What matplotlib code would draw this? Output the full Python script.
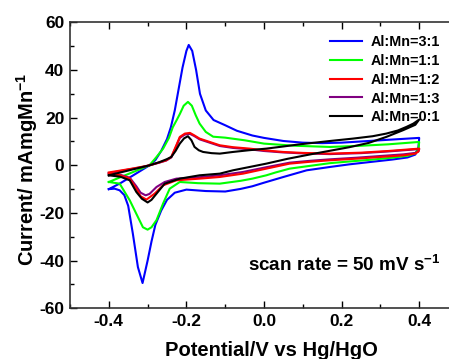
import numpy as np
import matplotlib
matplotlib.use("Agg")
import matplotlib.pyplot as plt
from matplotlib.ticker import MultipleLocator

plt.rcParams['font.family'] = ['Liberation Sans', 'DejaVu Sans']
plt.rcParams['font.weight'] = 'bold'
plt.rcParams['mathtext.fontset'] = 'custom'
plt.rcParams['mathtext.rm'] = 'Liberation Sans:bold'
plt.rcParams['mathtext.it'] = 'Liberation Sans:bold'
plt.rcParams['mathtext.bf'] = 'Liberation Sans:bold'

labels = ['Al:Mn=3:1', 'Al:Mn=1:1', 'Al:Mn=1:2', 'Al:Mn=1:3', 'Al:Mn=0:1']
colors = ['#0000ff', '#00ff00', '#ff0000', '#800080', '#000000']

# Al:Mn=3:1 (anodic sweep, then cathodic sweep)
e_31_up = [-0.40, -0.37, -0.34, -0.31, -0.295, -0.28, -0.265, -0.25, -0.24, -0.23, -0.22, -0.21,
           -0.20, -0.194, -0.185, -0.175, -0.165, -0.15, -0.13, -0.10, -0.07, -0.03, 0.0, 0.05,
           0.10, 0.15, 0.20, 0.25, 0.30, 0.35, 0.40]
i_31_up = [-10, -7.5, -4.5, -1.5, 0, 2.2, 6, 11, 16, 23, 32, 41,
           48, 50.5, 48, 40, 30, 23, 19, 16.8, 14.5, 12.5, 11.5, 10.2,
           9.5, 9.3, 9.5, 10, 10.5, 11, 11.5]
e_31_dn = [0.40, 0.398, 0.39, 0.37, 0.33, 0.28, 0.22, 0.17, 0.11, 0.05, 0.0, -0.03, -0.06, -0.10,
           -0.15, -0.20, -0.23, -0.25, -0.265, -0.28, -0.29, -0.30, -0.313, -0.325, -0.338, -0.35,
           -0.36, -0.372, -0.385, -0.40]
i_31_dn = [11.5, 7.5, 4.5, 3.3, 2.4, 1.5, 0.4, -0.7, -2.1, -4.9, -7.3, -8.8, -9.9, -11,
           -10.8, -10.2, -11.5, -14.5, -19, -25, -32, -40, -49.4, -42.7, -28.7, -17,
           -12.5, -10.5, -9.8, -10]

# Al:Mn=1:1
e_11_up = [-0.40, -0.37, -0.34, -0.31, -0.295, -0.277, -0.26, -0.245, -0.235, -0.225, -0.217, -0.207,
           -0.196, -0.186, -0.176, -0.166, -0.15, -0.131, -0.10, -0.05, 0.0, 0.08, 0.17, 0.25, 0.32, 0.40]
i_11_up = [-7, -5, -3, -1, 0, 3.5, 7, 11.5, 16, 19, 21.5, 25,
           26.6, 25, 21, 17.5, 14, 12, 11.6, 10.5, 9.1, 8.2, 7.7, 8.2, 8.8, 9.8]
e_11_dn = [0.40, 0.398, 0.39, 0.37, 0.33, 0.28, 0.22, 0.17, 0.12, 0.066, 0.03, 0.006, -0.03, -0.06,
           -0.114, -0.17, -0.217, -0.243, -0.26, -0.277, -0.29, -0.30, -0.312, -0.325, -0.346, -0.372, -0.40]
i_11_dn = [9.8, 7, 5, 4.0, 3.2, 2.4, 1.6, 0.9, -0.2, -1.4, -3, -4.2, -5.6, -6.5,
           -7.7, -7.5, -7, -9.8, -16, -23, -26, -27, -26, -21.7, -14.7, -7.7, -7]

# Al:Mn=1:2
e_12_up = [-0.40, -0.37, -0.34, -0.31, -0.295, -0.27, -0.252, -0.239, -0.226, -0.217, -0.204, -0.191,
           -0.18, -0.166, -0.14, -0.114, -0.08, -0.037, 0.0, 0.049, 0.10, 0.17, 0.25, 0.32, 0.40]
i_12_up = [-3, -2.2, -1.4, -0.5, 0, 1.2, 2.1, 3.5, 8.4, 11.9, 13.3, 13.6,
           12.6, 11.2, 9.8, 8.4, 7.6, 7, 6.3, 5.6, 5.2, 4.9, 5.3, 6, 7]
e_12_dn = [0.40, 0.398, 0.39, 0.36, 0.30, 0.24, 0.17, 0.12, 0.066, 0.006, -0.054, -0.114, -0.166,
           -0.226, -0.26, -0.282, -0.303, -0.318, -0.329, -0.346, -0.37, -0.40]
i_12_dn = [7, 5.8, 4.9, 4.2, 3.5, 2.8, 2.1, 1.5, 0.7, -1.4, -3.5, -4.9, -5.6,
           -6.3, -8.4, -11.9, -14.4, -13, -9.8, -5.6, -4.2, -3.5]

# Al:Mn=1:3
e_13_up = [-0.40, -0.37, -0.34, -0.31, -0.295, -0.27, -0.252, -0.239, -0.226, -0.217, -0.204, -0.191,
           -0.18, -0.166, -0.14, -0.114, -0.08, -0.037, 0.0, 0.049, 0.10, 0.17, 0.25, 0.32, 0.40]
i_13_up = [-3.3, -2.4, -1.5, -0.6, 0, 1.1, 2.0, 3.3, 8.0, 11.5, 12.9, 13.2,
           12.3, 10.9, 9.5, 8.1, 7.3, 6.7, 6.0, 5.4, 5.0, 4.7, 5.1, 5.8, 6.8]
e_13_dn = [0.40, 0.398, 0.39, 0.36, 0.30, 0.24, 0.17, 0.12, 0.066, 0.006, -0.054, -0.114, -0.166,
           -0.226, -0.256, -0.277, -0.295, -0.305, -0.318, -0.329, -0.346, -0.37, -0.40]
i_13_dn = [6.8, 5.8, 5.2, 4.6, 3.9, 3.2, 2.5, 1.9, 1.1, -0.8, -2.8, -4.2, -5.0,
           -5.6, -7, -9.1, -12, -12.6, -11.5, -8.8, -5.2, -4.0, -3.4]

# Al:Mn=0:1
e_01_up = [-0.40, -0.37, -0.34, -0.31, -0.295, -0.27, -0.25, -0.239, -0.228, -0.217, -0.206, -0.196,
           -0.187, -0.179, -0.168, -0.157, -0.135, -0.114, -0.08, -0.04, 0.006, 0.05, 0.092, 0.17,
           0.229, 0.28, 0.315, 0.345, 0.367, 0.385, 0.40]
i_01_up = [-4.2, -3, -1.8, -0.6, 0, 1.3, 2.6, 3.5, 6, 9.1, 11.3, 12.2,
           10.5, 7.7, 6.3, 5.6, 5.1, 4.9, 5.6, 6.3, 7, 7.9, 8.8, 10.2,
           11.2, 12.2, 13.3, 14.6, 16.1, 17.5, 19.2]
e_01_dn = [0.40, 0.39, 0.358, 0.315, 0.27, 0.22, 0.17, 0.12, 0.06, 0.006, -0.04, -0.08, -0.114,
           -0.166, -0.217, -0.256, -0.277, -0.29, -0.30, -0.315, -0.329, -0.346, -0.37, -0.40]
i_01_dn = [19.2, 17, 14.7, 11.9, 9.4, 7.6, 6.1, 4.6, 2.7, 0.7, -0.8, -2.1, -3.5,
           -4.2, -5.6, -7.7, -11.9, -14.5, -15.6, -14, -11.2, -6.3, -4.8, -4.2]

curves = [
    (e_31_up + e_31_dn, i_31_up + i_31_dn),
    (e_11_up + e_11_dn, i_11_up + i_11_dn),
    (e_12_up + e_12_dn, i_12_up + i_12_dn),
    (e_13_up + e_13_dn, i_13_up + i_13_dn),
    (e_01_up + e_01_dn, i_01_up + i_01_dn),
]
zorders = [2, 3, 5, 4, 6]

fig = plt.figure(figsize=(4.49, 3.59), dpi=100)
# axes box runs past the right edge of the picture, as in the original
ax = fig.add_axes([70 / 449, 50.7 / 359, 388 / 449, 286 / 359])

for (e, i), lab, c, z in zip(curves, labels, colors, zorders):
    ax.plot(e, i, color=c, lw=1.5, label=lab, zorder=z)

ax.set_xlim(-0.5, 0.5)
ax.set_ylim(-60, 60)
ax.xaxis.set_minor_locator(MultipleLocator(0.1))
ax.yaxis.set_minor_locator(MultipleLocator(10))
ax.set_xticks([-0.4, -0.2, 0.0, 0.2, 0.4])
ax.set_xticklabels(['-0.4', '-0.2', '0.0', '0.2', '0.4'])
ax.set_yticks([-60, -40, -20, 0, 20, 40, 60])
ax.set_yticklabels(['-60', '-40', '-20', '0', '20', '40', '60'])
ax.tick_params(which='both', direction='in', top=True, right=True, width=1.0, labelsize=12.5, pad=4)
ax.tick_params(which='major', length=5)
ax.tick_params(which='minor', length=3)
for s in ax.spines.values():
    s.set_linewidth(1.2)
    s.set_color('#333333')

fig.text(271 / 449, 1 - 351 / 359, 'Potential/V vs Hg/HgO', fontsize=14.5, fontweight='bold',
         ha='center', va='center')
fig.text(27 / 449, 1 - 169 / 359, 'Current/ mAmgMn$^{-1}$', fontsize=14.5, fontweight='bold',
         ha='center', va='center', rotation=90)

fig.text(248 / 449, 1 - 265 / 359, 'scan rate = 50 mV s$^{-1}$', fontsize=13.6, fontweight='bold',
         va='center', ha='left')

leg = ax.legend(loc='upper right', bbox_to_anchor=(447 / 449, 1 - 28 / 359),
                bbox_transform=fig.transFigure, frameon=False, fontsize=10.4,
                handlelength=2.2, handletextpad=0.6, labelspacing=0.33, borderpad=0)
for t in leg.get_texts():
    t.set_fontweight('bold')

fig.savefig('out.png', dpi=100)
